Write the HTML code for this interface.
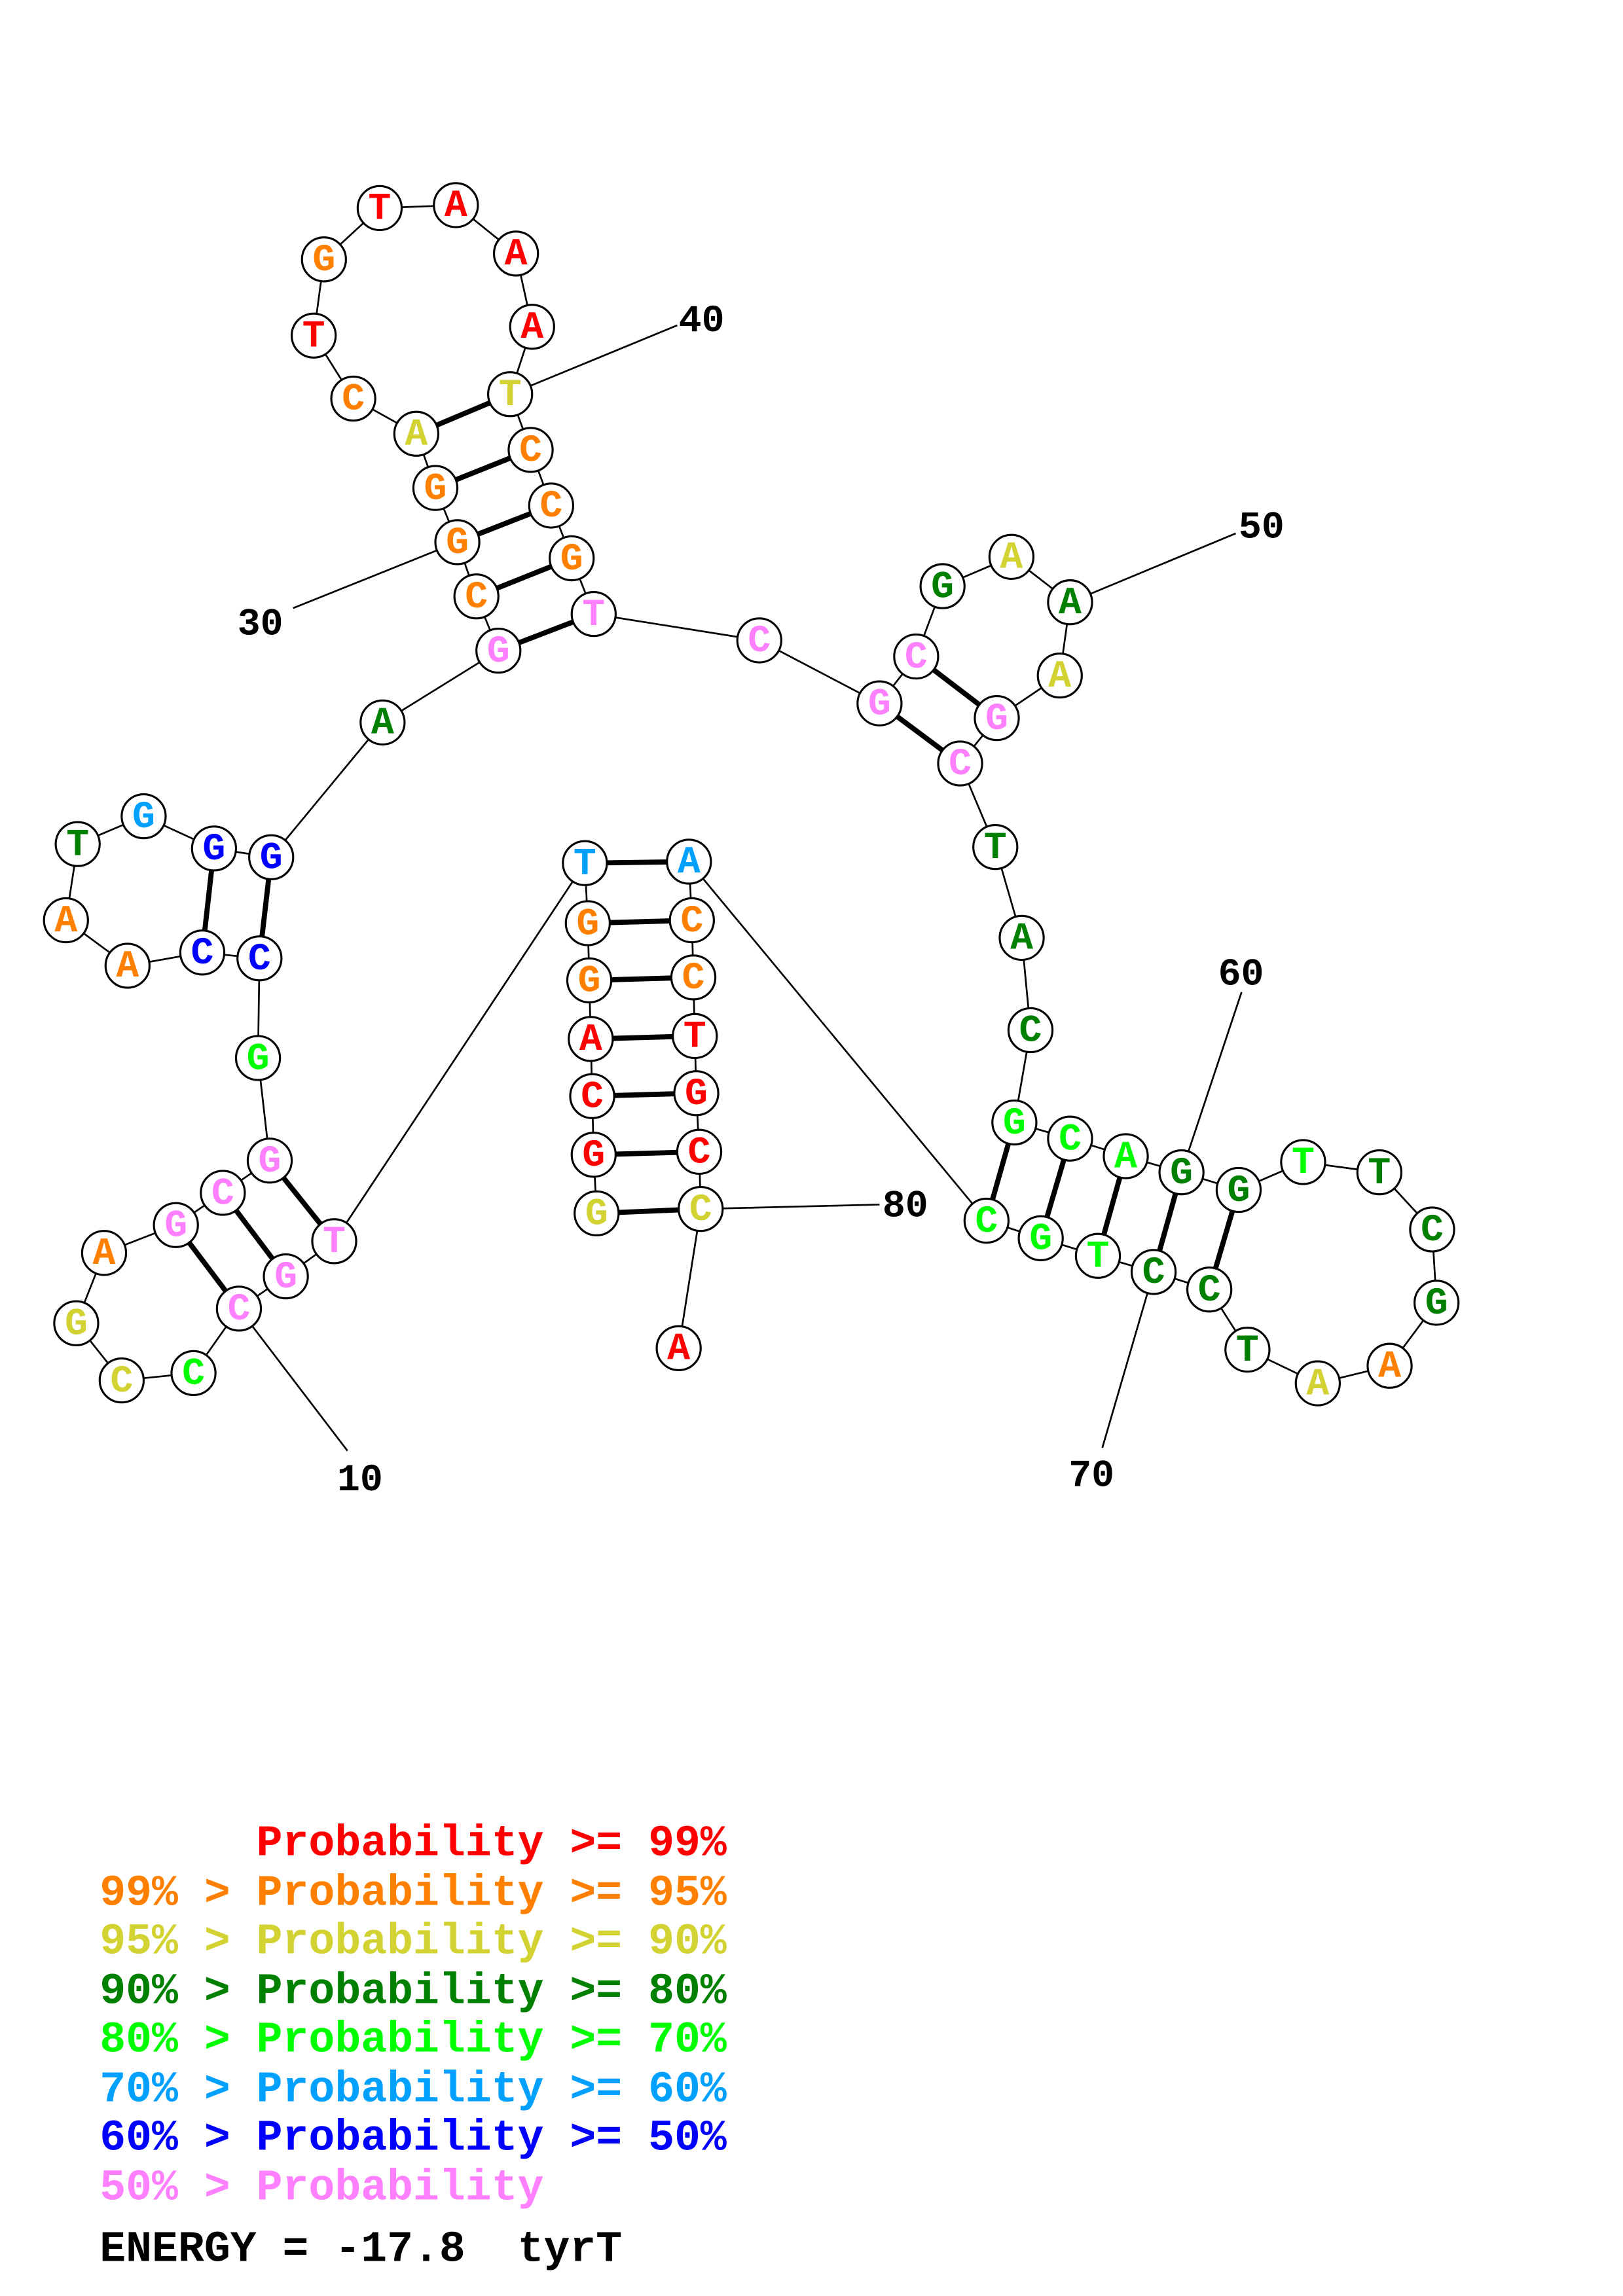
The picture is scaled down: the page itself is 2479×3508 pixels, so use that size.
<!DOCTYPE html>
<html><head><meta charset="utf-8"><style>
html,body{margin:0;padding:0;background:#fff}
svg{display:block}
.n{fill:#fff;stroke:#000;stroke-width:1.4}
.t{font-family:"Liberation Mono",monospace;font-weight:bold;font-size:26px;text-anchor:middle;dominant-baseline:central}
.lb{font-family:"Liberation Mono",monospace;font-weight:bold;font-size:26px;fill:#000}
.lg{font-family:"Liberation Mono",monospace;font-weight:bold;font-size:29.7px;white-space:pre}
.R{fill:#ff0000}.O{fill:#ff8000}.Y{fill:#d2d232}.D{fill:#008000}.L{fill:#00ff00}.C{fill:#00a0ff}.B{fill:#0000ff}.P{fill:#ff80ff}
</style></head><body>
<svg width="2479" height="3508" viewBox="0 0 1107.2 1566.8" xmlns="http://www.w3.org/2000/svg">
<rect width="1107.2" height="1566.8" fill="#fff"/>
<g stroke="#000" stroke-width="1.2" fill="none">
<polyline points="407,828 405,788 404,748 403,709 402,669 401,630 399,589 228,847 195,871 163,893 132,937 83,942 52,903 71,855 120,836 152,814 184,792 176,722 177,654 138,650 87,659 45,628 53,576 98,557 146,579 185,585 261,493 340,444 325,407 312,370 297,333 284,296 241,272 214,229 221,177 259,142 311,140 352,173 363,223 348,269 362,307 376,345 390,381 405,419 518,437 600,480 625,448 643,400 690,380 730,411 723,461 680,490 655,521 679,578 697,640 703,703 692,766 730,777 768,789 806,800 845,812 889,793 941,800 977,839 980,889 948,932 899,944 851,921 825,880 787,868 749,857 710,845 673,833 470,588 472,628 473,667 474,707 475,746 477,786 478,825 463,920"/>
<line x1="163" y1="893" x2="237" y2="990"/>
<line x1="312" y1="370" x2="200" y2="415"/>
<line x1="348" y1="269" x2="462" y2="222"/>
<line x1="730" y1="411" x2="843" y2="364"/>
<line x1="806" y1="800" x2="847" y2="677"/>
<line x1="787" y1="868" x2="752" y2="988"/>
<line x1="478" y1="825" x2="600" y2="822"/>
</g>
<g stroke="#000" stroke-width="3.5">
<line x1="407" y1="828" x2="478" y2="825"/><line x1="405" y1="788" x2="477" y2="786"/><line x1="404" y1="748" x2="475" y2="746"/><line x1="403" y1="709" x2="474" y2="707"/><line x1="402" y1="669" x2="473" y2="667"/><line x1="401" y1="630" x2="472" y2="628"/><line x1="399" y1="589" x2="470" y2="588"/>
<line x1="228" y1="847" x2="184" y2="792"/><line x1="195" y1="871" x2="152" y2="814"/><line x1="163" y1="893" x2="120" y2="836"/>
<line x1="177" y1="654" x2="185" y2="585"/><line x1="138" y1="650" x2="146" y2="579"/>
<line x1="340" y1="444" x2="405" y2="419"/><line x1="325" y1="407" x2="390" y2="381"/><line x1="312" y1="370" x2="376" y2="345"/><line x1="297" y1="333" x2="362" y2="307"/><line x1="284" y1="296" x2="348" y2="269"/>
<line x1="600" y1="480" x2="655" y2="521"/><line x1="625" y1="448" x2="680" y2="490"/>
<line x1="692" y1="766" x2="673" y2="833"/><line x1="730" y1="777" x2="710" y2="845"/><line x1="768" y1="789" x2="749" y2="857"/><line x1="806" y1="800" x2="787" y2="868"/><line x1="845" y1="812" x2="825" y2="880"/>
</g>
<g>
<circle class="n" cx="407" cy="828" r="15"/><text class="t Y" x="407" y="829">G</text>
<circle class="n" cx="405" cy="788" r="15"/><text class="t R" x="405" y="789">G</text>
<circle class="n" cx="404" cy="748" r="15"/><text class="t R" x="404" y="749">C</text>
<circle class="n" cx="403" cy="709" r="15"/><text class="t R" x="403" y="710">A</text>
<circle class="n" cx="402" cy="669" r="15"/><text class="t O" x="402" y="670">G</text>
<circle class="n" cx="401" cy="630" r="15"/><text class="t O" x="401" y="631">G</text>
<circle class="n" cx="399" cy="589" r="15"/><text class="t C" x="399" y="590">T</text>
<circle class="n" cx="228" cy="847" r="15"/><text class="t P" x="228" y="848">T</text>
<circle class="n" cx="195" cy="871" r="15"/><text class="t P" x="195" y="872">G</text>
<circle class="n" cx="163" cy="893" r="15"/><text class="t P" x="163" y="894">C</text>
<circle class="n" cx="132" cy="937" r="15"/><text class="t L" x="132" y="938">C</text>
<circle class="n" cx="83" cy="942" r="15"/><text class="t Y" x="83" y="943">C</text>
<circle class="n" cx="52" cy="903" r="15"/><text class="t Y" x="52" y="904">G</text>
<circle class="n" cx="71" cy="855" r="15"/><text class="t O" x="71" y="856">A</text>
<circle class="n" cx="120" cy="836" r="15"/><text class="t P" x="120" y="837">G</text>
<circle class="n" cx="152" cy="814" r="15"/><text class="t P" x="152" y="815">C</text>
<circle class="n" cx="184" cy="792" r="15"/><text class="t P" x="184" y="793">G</text>
<circle class="n" cx="176" cy="722" r="15"/><text class="t L" x="176" y="723">G</text>
<circle class="n" cx="177" cy="654" r="15"/><text class="t B" x="177" y="655">C</text>
<circle class="n" cx="138" cy="650" r="15"/><text class="t B" x="138" y="651">C</text>
<circle class="n" cx="87" cy="659" r="15"/><text class="t O" x="87" y="660">A</text>
<circle class="n" cx="45" cy="628" r="15"/><text class="t O" x="45" y="629">A</text>
<circle class="n" cx="53" cy="576" r="15"/><text class="t D" x="53" y="577">T</text>
<circle class="n" cx="98" cy="557" r="15"/><text class="t C" x="98" y="558">G</text>
<circle class="n" cx="146" cy="579" r="15"/><text class="t B" x="146" y="580">G</text>
<circle class="n" cx="185" cy="585" r="15"/><text class="t B" x="185" y="586">G</text>
<circle class="n" cx="261" cy="493" r="15"/><text class="t D" x="261" y="494">A</text>
<circle class="n" cx="340" cy="444" r="15"/><text class="t P" x="340" y="445">G</text>
<circle class="n" cx="325" cy="407" r="15"/><text class="t O" x="325" y="408">C</text>
<circle class="n" cx="312" cy="370" r="15"/><text class="t O" x="312" y="371">G</text>
<circle class="n" cx="297" cy="333" r="15"/><text class="t O" x="297" y="334">G</text>
<circle class="n" cx="284" cy="296" r="15"/><text class="t Y" x="284" y="297">A</text>
<circle class="n" cx="241" cy="272" r="15"/><text class="t O" x="241" y="273">C</text>
<circle class="n" cx="214" cy="229" r="15"/><text class="t R" x="214" y="230">T</text>
<circle class="n" cx="221" cy="177" r="15"/><text class="t O" x="221" y="178">G</text>
<circle class="n" cx="259" cy="142" r="15"/><text class="t R" x="259" y="143">T</text>
<circle class="n" cx="311" cy="140" r="15"/><text class="t R" x="311" y="141">A</text>
<circle class="n" cx="352" cy="173" r="15"/><text class="t R" x="352" y="174">A</text>
<circle class="n" cx="363" cy="223" r="15"/><text class="t R" x="363" y="224">A</text>
<circle class="n" cx="348" cy="269" r="15"/><text class="t Y" x="348" y="270">T</text>
<circle class="n" cx="362" cy="307" r="15"/><text class="t O" x="362" y="308">C</text>
<circle class="n" cx="376" cy="345" r="15"/><text class="t O" x="376" y="346">C</text>
<circle class="n" cx="390" cy="381" r="15"/><text class="t O" x="390" y="382">G</text>
<circle class="n" cx="405" cy="419" r="15"/><text class="t P" x="405" y="420">T</text>
<circle class="n" cx="518" cy="437" r="15"/><text class="t P" x="518" y="438">C</text>
<circle class="n" cx="600" cy="480" r="15"/><text class="t P" x="600" y="481">G</text>
<circle class="n" cx="625" cy="448" r="15"/><text class="t P" x="625" y="449">C</text>
<circle class="n" cx="643" cy="400" r="15"/><text class="t D" x="643" y="401">G</text>
<circle class="n" cx="690" cy="380" r="15"/><text class="t Y" x="690" y="381">A</text>
<circle class="n" cx="730" cy="411" r="15"/><text class="t D" x="730" y="412">A</text>
<circle class="n" cx="723" cy="461" r="15"/><text class="t Y" x="723" y="462">A</text>
<circle class="n" cx="680" cy="490" r="15"/><text class="t P" x="680" y="491">G</text>
<circle class="n" cx="655" cy="521" r="15"/><text class="t P" x="655" y="522">C</text>
<circle class="n" cx="679" cy="578" r="15"/><text class="t D" x="679" y="579">T</text>
<circle class="n" cx="697" cy="640" r="15"/><text class="t D" x="697" y="641">A</text>
<circle class="n" cx="703" cy="703" r="15"/><text class="t D" x="703" y="704">C</text>
<circle class="n" cx="692" cy="766" r="15"/><text class="t L" x="692" y="767">G</text>
<circle class="n" cx="730" cy="777" r="15"/><text class="t L" x="730" y="778">C</text>
<circle class="n" cx="768" cy="789" r="15"/><text class="t L" x="768" y="790">A</text>
<circle class="n" cx="806" cy="800" r="15"/><text class="t D" x="806" y="801">G</text>
<circle class="n" cx="845" cy="812" r="15"/><text class="t D" x="845" y="813">G</text>
<circle class="n" cx="889" cy="793" r="15"/><text class="t L" x="889" y="794">T</text>
<circle class="n" cx="941" cy="800" r="15"/><text class="t D" x="941" y="801">T</text>
<circle class="n" cx="977" cy="839" r="15"/><text class="t D" x="977" y="840">C</text>
<circle class="n" cx="980" cy="889" r="15"/><text class="t D" x="980" y="890">G</text>
<circle class="n" cx="948" cy="932" r="15"/><text class="t O" x="948" y="933">A</text>
<circle class="n" cx="899" cy="944" r="15"/><text class="t Y" x="899" y="945">A</text>
<circle class="n" cx="851" cy="921" r="15"/><text class="t D" x="851" y="922">T</text>
<circle class="n" cx="825" cy="880" r="15"/><text class="t D" x="825" y="881">C</text>
<circle class="n" cx="787" cy="868" r="15"/><text class="t D" x="787" y="869">C</text>
<circle class="n" cx="749" cy="857" r="15"/><text class="t L" x="749" y="858">T</text>
<circle class="n" cx="710" cy="845" r="15"/><text class="t L" x="710" y="846">G</text>
<circle class="n" cx="673" cy="833" r="15"/><text class="t L" x="673" y="834">C</text>
<circle class="n" cx="470" cy="588" r="15"/><text class="t C" x="470" y="589">A</text>
<circle class="n" cx="472" cy="628" r="15"/><text class="t O" x="472" y="629">C</text>
<circle class="n" cx="473" cy="667" r="15"/><text class="t O" x="473" y="668">C</text>
<circle class="n" cx="474" cy="707" r="15"/><text class="t R" x="474" y="708">T</text>
<circle class="n" cx="475" cy="746" r="15"/><text class="t R" x="475" y="747">G</text>
<circle class="n" cx="477" cy="786" r="15"/><text class="t R" x="477" y="787">C</text>
<circle class="n" cx="478" cy="825" r="15"/><text class="t Y" x="478" y="826">C</text>
<circle class="n" cx="463" cy="920" r="15"/><text class="t R" x="463" y="921">A</text>
</g>
<text class="lb" x="230" y="1017">10</text>
<text class="lb" x="162" y="433">30</text>
<text class="lb" x="463" y="226">40</text>
<text class="lb" x="845" y="367">50</text>
<text class="lb" x="831" y="672">60</text>
<text class="lb" x="729" y="1014">70</text>
<text class="lb" x="602" y="830">80</text>
<text class="lg R" x="68" y="1266">      Probability &gt;= 99%</text>
<text class="lg O" x="68" y="1300">99% &gt; Probability &gt;= 95%</text>
<text class="lg Y" x="68" y="1333">95% &gt; Probability &gt;= 90%</text>
<text class="lg D" x="68" y="1367">90% &gt; Probability &gt;= 80%</text>
<text class="lg L" x="68" y="1400">80% &gt; Probability &gt;= 70%</text>
<text class="lg C" x="68" y="1434">70% &gt; Probability &gt;= 60%</text>
<text class="lg B" x="68" y="1467">60% &gt; Probability &gt;= 50%</text>
<text class="lg P" x="68" y="1501">50% &gt; Probability</text>
<text class="lg" x="68" y="1543" fill="#000">ENERGY = -17.8  tyrT</text>
</svg>
</body></html>
